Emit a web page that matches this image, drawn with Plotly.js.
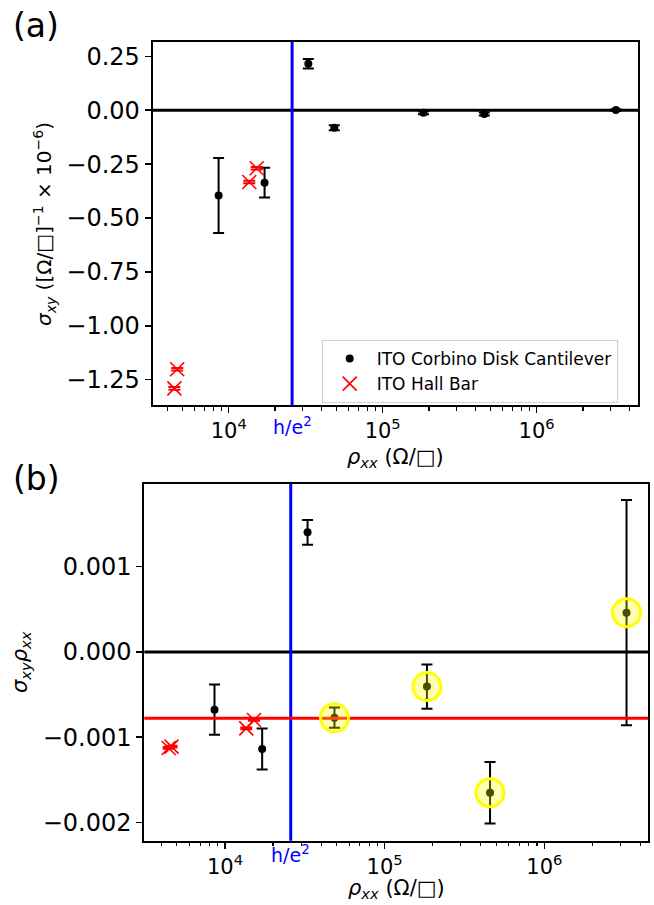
<!DOCTYPE html>
<html>
<head>
<meta charset="utf-8">
<script src="https://cdn.plot.ly/plotly-3.0.1.min.js"></script>
<style>html,body{margin:0;padding:0;background:#fff;}#chart{width:654px;height:905px;}</style>
</head>
<body>
<div id="chart"></div>
<script>
// ---- data ----
const rhoCorbino = [8600, 17100, 32900, 48500, 184000, 457000, 3270000];
const sigmaCorbino = [-0.396, -0.336, 0.216, -0.081, -0.011, -0.017, 0.001];
const sigmaCorbinoErr = [0.174, 0.069, 0.022, 0.012, 0.007, 0.007, 0.004];
const rhoHall = [4440, 4630, 13600, 15200];
const sigmaHall = [-1.291, -1.202, -0.333, -0.269];
const sigmaHallErr = [0.006, 0.006, 0.006, 0.006];
const prodCorbino = [-0.000676, -0.001137, 0.001403, -0.00077, -0.000406, -0.00165, 0.000461];
const prodCorbinoErr = [0.000295, 0.00024, 0.000145, 0.000118, 0.00026, 0.00036, 0.00132];
const prodHall = [-0.001125, -0.00111, -0.000895, -0.000797];
const prodHallErr = [0.00001, 0.00001, 0.00001, 0.00001];
const meanProd = -0.000777;
const highlightStart = 3; // last four Corbino points circled
const hOverE2 = 25812.807;
const xTickVals = [1e4, 1e5, 1e6];
const xTickText = ['10<sup>4</sup>', '10<sup>5</sup>', '10<sup>6</sup>'];
const xMinorVals = [3000,4000,5000,6000,7000,8000,9000,20000,30000,40000,50000,60000,70000,80000,90000,
  200000,300000,400000,500000,600000,700000,800000,900000,2000000,3000000,4000000];
const yTopTicks = [0.25, 0, -0.25, -0.5, -0.75, -1.0, -1.25];
const yBotTicks = [0.001, 0, -0.001, -0.002];

const FONT = 'DejaVu Sans, sans-serif';
const W = 654, H = 905;

const traces = [
  // top panel
  {x:[1e3,1e7], y:[0,0], xaxis:'x', yaxis:'y', mode:'lines', line:{color:'black', width:3}, showlegend:false, hoverinfo:'skip'},
  {x:[hOverE2,hOverE2], y:[-5,5], xaxis:'x', yaxis:'y', mode:'lines', line:{color:'blue', width:3}, showlegend:false, hoverinfo:'skip'},
  {x:rhoCorbino, y:sigmaCorbino, xaxis:'x', yaxis:'y', mode:'markers', name:'ITO Corbino Disk Cantilever',
   marker:{color:'black', size:8, symbol:'circle'},
   error_y:{type:'data', array:sigmaCorbinoErr, visible:true, color:'black', thickness:2, width:5.5}},
  {x:rhoHall, y:sigmaHall, xaxis:'x', yaxis:'y', mode:'markers', name:'ITO Hall Bar',
   marker:{color:'red', size:14, symbol:'x-thin-open', line:{color:'red', width:1.6}},
   error_y:{type:'data', array:sigmaHallErr, visible:true, color:'red', thickness:2, width:6}},
  // bottom panel
  {x:[1e3,1e7], y:[0,0], xaxis:'x2', yaxis:'y2', mode:'lines', line:{color:'black', width:3}, showlegend:false, hoverinfo:'skip'},
  {x:[hOverE2,hOverE2], y:[-1,1], xaxis:'x2', yaxis:'y2', mode:'lines', line:{color:'blue', width:3}, showlegend:false, hoverinfo:'skip'},
  {x:rhoCorbino, y:prodCorbino, xaxis:'x2', yaxis:'y2', mode:'markers', showlegend:false,
   marker:{color:'black', size:8, symbol:'circle'},
   error_y:{type:'data', array:prodCorbinoErr, visible:true, color:'black', thickness:2, width:5.5}},
  {x:rhoHall, y:prodHall, xaxis:'x2', yaxis:'y2', mode:'markers', showlegend:false,
   marker:{color:'red', size:14, symbol:'x-thin-open', line:{color:'red', width:1.6}},
   error_y:{type:'data', array:prodHallErr, visible:true, color:'red', thickness:2, width:6}},
  {x:[1e3,1e7], y:[meanProd, meanProd], xaxis:'x2', yaxis:'y2', mode:'lines', line:{color:'red', width:3}, showlegend:false, hoverinfo:'skip'},
  {x:rhoCorbino.slice(highlightStart), y:prodCorbino.slice(highlightStart), xaxis:'x2', yaxis:'y2', mode:'markers', showlegend:false,
   marker:{color:'rgba(255,255,0,0.3)', size:28, symbol:'circle', line:{color:'rgb(255,255,0)', width:3}}}
];

function xAxis(domain, range, anchor) {
  return {
    type:'log', domain:domain, range:range, anchor:anchor,
    showgrid:false, zeroline:false, showline:true, mirror:true, linecolor:'black', linewidth:2,
    ticks:'outside', ticklen:6, tickwidth:1.6, tickcolor:'black',
    tickmode:'array', tickvals:xTickVals, ticktext:xTickText,
    tickfont:{family:FONT, size:21, color:'black'},
    minor:{tickmode:'array', tickvals:xMinorVals, ticks:'outside', ticklen:3.5, tickwidth:1.1, tickcolor:'black', showgrid:false},
    automargin:false
  };
}
function yAxis(domain, range, anchor, ticks, fmt) {
  return {
    domain:domain, range:range, anchor:anchor,
    showgrid:false, zeroline:false, showline:true, mirror:true, linecolor:'black', linewidth:2,
    ticks:'outside', ticklen:6, tickwidth:1.6, tickcolor:'black',
    tickmode:'array', tickvals:ticks, tickformat:fmt,
    tickfont:{family:FONT, size:24, color:'black'},
    automargin:false
  };
}

const layout = {
  width:W, height:H,
  margin:{l:0, r:0, t:0, b:0},
  paper_bgcolor:'white', plot_bgcolor:'white',
  font:{family:FONT, color:'black'},
  showlegend:true,
  legend:{x:321.7/W, y:1-340/H, xanchor:'left', yanchor:'top', bgcolor:'white', bordercolor:'#d0d0d0', borderwidth:1,
          font:{family:FONT, size:17, color:'black'}, tracegroupgap:0, itemwidth:44},
  xaxis: xAxis([152.7/W, 638/W], [3.5065, 6.658], 'y'),
  yaxis: yAxis([1-405/H, 1-42/H], [-1.368, 0.317], 'x', yTopTicks, '.2f'),
  xaxis2: xAxis([144.3/W, 648/W], [3.495, 6.649], 'y2'),
  yaxis2: yAxis([1-840.7/H, 1-484/H], [-0.002212, 0.001969], 'x2', yBotTicks, '.3f'),
  annotations:[
    {text:'(a)', xref:'paper', yref:'paper', x:36/W, y:1-26/H, xanchor:'center', yanchor:'middle', showarrow:false, font:{family:FONT, size:33, color:'black'}},
    {text:'(b)', xref:'paper', yref:'paper', x:36/W, y:1-478/H, xanchor:'center', yanchor:'middle', showarrow:false, font:{family:FONT, size:33, color:'black'}},
    {text:'h/e<sup>2</sup>', xref:'x', yref:'paper', x:Math.log10(hOverE2), y:1-426/H, xanchor:'center', yanchor:'middle', showarrow:false, font:{family:FONT, size:19, color:'blue'}},
    {text:'h/e<sup>2</sup>', xref:'x2', yref:'paper', x:Math.log10(hOverE2), y:1-854/H, xanchor:'center', yanchor:'middle', showarrow:false, font:{family:FONT, size:19, color:'blue'}},
    {text:'<i>ρ</i><sub><i>xx</i></sub> (Ω/□)', xref:'paper', yref:'paper', x:395/W, y:1-458/H, xanchor:'center', yanchor:'middle', showarrow:false, font:{family:FONT, size:21, color:'black'}},
    {text:'<i>ρ</i><sub><i>xx</i></sub> (Ω/□)', xref:'paper', yref:'paper', x:396/W, y:1-889/H, xanchor:'center', yanchor:'middle', showarrow:false, font:{family:FONT, size:21, color:'black'}},
    {text:'<i>σ</i><sub><i>xy</i></sub> ([Ω/□]<sup>−1</sup> × 10<sup>−6</sup>)', xref:'paper', yref:'paper', x:44/W, y:1-224/H, xanchor:'center', yanchor:'middle', textangle:-90, showarrow:false, font:{family:FONT, size:20, color:'black'}},
    {text:'<i>σ</i><sub><i>xy</i></sub><i>ρ</i><sub><i>xx</i></sub>', xref:'paper', yref:'paper', x:21/W, y:1-662/H, xanchor:'center', yanchor:'middle', textangle:-90, showarrow:false, font:{family:FONT, size:21, color:'black'}}
  ]
};

Plotly.newPlot('chart', traces, layout, {displayModeBar:false, staticPlot:true});
</script>
</body>
</html>
